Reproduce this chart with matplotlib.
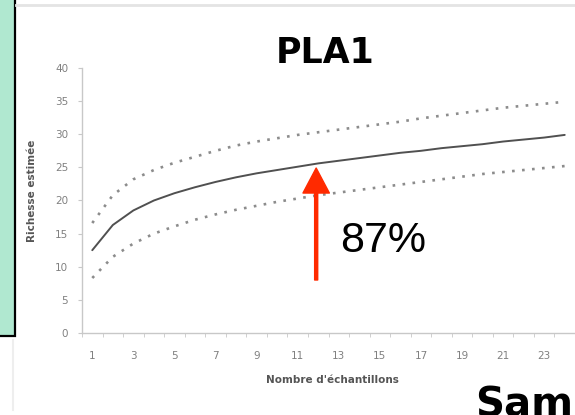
import matplotlib
matplotlib.use("Agg")
import matplotlib.pyplot as plt
from matplotlib.patches import Rectangle
from matplotlib.lines import Line2D
import numpy as np

# ---- data ----
samples = list(range(1, 25))
richness_mean = [12.5, 16.3, 18.5, 20.0, 21.1, 22.0, 22.8, 23.5, 24.1, 24.6, 25.1, 25.6,
                 26.0, 26.4, 26.8, 27.2, 27.5, 27.9, 28.2, 28.5, 28.9, 29.2, 29.5, 29.9]
richness_upper = [16.6, 20.8, 23.2, 24.6, 25.7, 26.6, 27.5, 28.3, 28.9, 29.4, 29.9, 30.3,
                  30.7, 31.1, 31.5, 31.9, 32.4, 32.8, 33.2, 33.6, 34.0, 34.3, 34.6, 34.9]
richness_lower = [8.3, 11.5, 13.5, 15.0, 16.1, 17.1, 17.9, 18.6, 19.2, 19.8, 20.3, 20.8,
                  21.2, 21.6, 22.0, 22.4, 22.8, 23.2, 23.6, 24.0, 24.3, 24.6, 24.9, 25.2]
x_tick_labels = [1, 3, 5, 7, 9, 11, 13, 15, 17, 19, 21, 23]
y_ticks = [0, 5, 10, 15, 20, 25, 30, 35, 40]
title = "PLA1"
x_label = "Nombre d'échantillons"
y_label = "Richesse estimée"
arrow_x = 11.9
arrow_from = 8.0
arrow_to = 24.9
pct_label = "87%"

W, H = 575, 415
fig = plt.figure(figsize=(W / 100, H / 100), dpi=100)
fig.patch.set_facecolor("white")

def fx(px):
    return px / W

def fy(py):
    return (H - py) / H

# decorative slide elements
fig.add_artist(Rectangle((-0.02, fy(336)), fx(15) + 0.02, 1.05 - fy(336),
                         transform=fig.transFigure, facecolor="#b0e8d0",
                         edgecolor="black", lw=1.6, zorder=0))
fig.add_artist(Line2D([fx(16), 1.0], [fy(5), fy(5)], transform=fig.transFigure,
                      color="#e4e4e4", lw=2))
fig.add_artist(Line2D([fx(13), fx(13)], [fy(340), fy(410)], transform=fig.transFigure,
                      color="#eeeeee", lw=1.5))

ax = fig.add_axes([fx(82), fy(333), fx(575) - fx(82), fy(68) - fy(333)])
ax.set_facecolor("none")

ax.plot(samples, richness_mean, color="#505050", lw=1.4, solid_capstyle="round")
ax.plot(samples, richness_upper, color="#8c8c8c", lw=1.9, linestyle=(0, (1, 2.8)))
ax.plot(samples, richness_lower, color="#8c8c8c", lw=1.9, linestyle=(0, (1, 2.8)))

ax.set_xlim(0.5, 24.06)
ax.set_ylim(0, 40)

for s in ["top", "right"]:
    ax.spines[s].set_visible(False)
for s in ["left", "bottom"]:
    ax.spines[s].set_color("#c8c8c8")
    ax.spines[s].set_linewidth(1.0)

ax.set_xticks(x_tick_labels)
ax.set_xticklabels([str(v) for v in x_tick_labels])
ax.set_xticks(np.arange(0.5, 24.6, 1.0), minor=True)
ax.tick_params(axis="x", which="major", length=0, pad=13, labelsize=7.5, labelcolor="#808080")
ax.tick_params(axis="x", which="minor", length=3, color="#c8c8c8", direction="out")
ax.set_yticks(y_ticks)
ax.tick_params(axis="y", which="major", length=3, color="#c8c8c8", pad=7,
               labelsize=7.5, labelcolor="#808080")

fig.text(fx(332), fy(380), x_label, ha="center", va="center", fontsize=7.5,
         fontweight="bold", color="#555555")
fig.text(fx(32), fy(191), y_label, ha="center", va="center", rotation=90, fontsize=7.5,
         fontweight="bold", color="#555555")

fig.text(fx(325), fy(63), title, ha="center", va="baseline", fontsize=25,
         fontweight="bold", color="black", family="DejaVu Sans")

ax.annotate("", xy=(arrow_x, arrow_to), xytext=(arrow_x, arrow_from),
            arrowprops=dict(facecolor="#ff2a00", edgecolor="#ff2a00", width=2.2,
                            headwidth=19, headlength=18, shrink=0.0))

fig.text(fx(340), fy(252), pct_label, ha="left", va="baseline", fontsize=31,
         color="black", family="Liberation Sans")

fig.text(fx(475), fy(416), "Sampling", ha="left", va="baseline", fontsize=29,
         fontweight="bold", color="black", family="DejaVu Sans")

fig.savefig("out.png", dpi=100)
